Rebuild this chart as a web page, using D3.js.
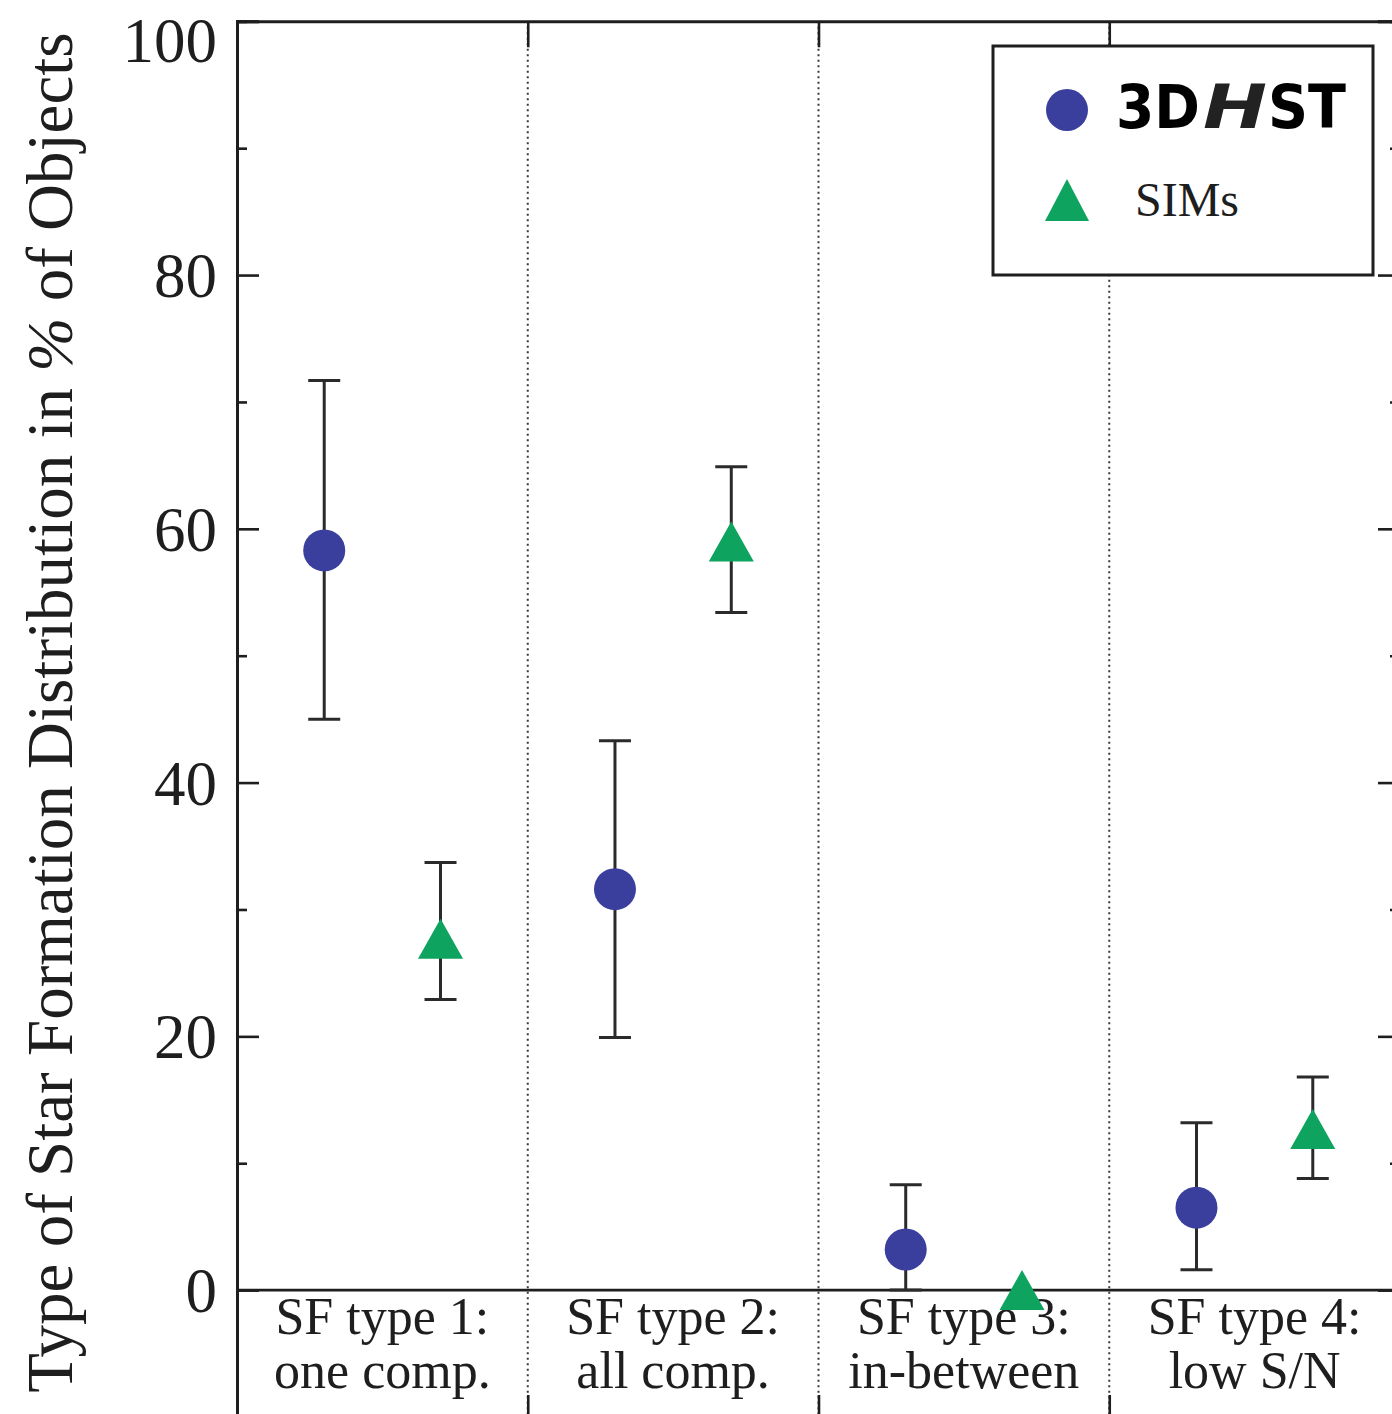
<!DOCTYPE html>
<html>
<head>
<meta charset="utf-8">
<script src="https://cdn.jsdelivr.net/npm/d3@7"></script>
<style>
  html, body { margin: 0; padding: 0; background: #fff; }
  svg { display: block; }
</style>
</head>
<body>
<div id="chart"></div>
<script>
// ---------------- data ----------------
const catLine1 = ["SF type 1:", "SF type 2:", "SF type 3:", "SF type 4:"];
const catLine2 = ["one comp.", "all comp.", "in-between", "low S/N"];

const hstValues = [58.3, 31.6, 3.2, 6.5];
const hstLow    = [45.0, 19.9, 0.0, 1.6];
const hstHigh   = [71.7, 43.3, 8.3, 13.2];

const simValues = [27.7, 59.0, 0.0, 12.7];
const simLow    = [22.9, 53.4, 0.0, 8.8];
const simHigh   = [33.7, 64.9, 0.0, 16.8];

const yMajorTicks = [0, 20, 40, 60, 80, 100];
const yMinorTicks = [10, 30, 50, 70, 90];
const xDividers = [1, 2, 3];
const legendLabels = ["3D", "H", "ST", "SIMs"];

// ---------------- layout ----------------
const W = 1392, H = 1414;
const mLeft = 237, mRight = 1400, mTop = 21.3, mBottom = 1417;
const blue = "#3a3f9d", green = "#0ea35e", ink = "#1e1e1e";
const serif = "'Liberation Serif', 'DejaVu Serif', serif";

const svg = d3.select("#chart").append("svg")
  .attr("width", W).attr("height", H)
  .attr("viewBox", `0 0 ${W} ${H}`);

const x = d3.scaleLinear().domain([0, 4]).range([mLeft, mRight]);
const y = d3.scaleLinear().domain([-10, 100]).range([mBottom, mTop]);

// dotted category dividers
svg.append("g").selectAll("line").data(xDividers).join("line")
  .attr("x1", d => x(d)).attr("x2", d => x(d))
  .attr("y1", mTop).attr("y2", mBottom)
  .attr("stroke", "#3a3a3a").attr("stroke-width", 2)
  .attr("stroke-dasharray", "2,3.5");

// zero line
svg.append("line")
  .attr("x1", mLeft).attr("x2", mRight)
  .attr("y1", y(0)).attr("y2", y(0))
  .attr("stroke", ink).attr("stroke-width", 2.6);

// axes (frame)
const yLeft = d3.axisRight(y).tickValues(yMajorTicks).tickSize(22).tickFormat("");
const yLeftMinor = d3.axisRight(y).tickValues(yMinorTicks).tickSize(10).tickFormat("");
const yRight = d3.axisLeft(y).tickValues(yMajorTicks).tickSize(22).tickFormat("");
const yRightMinor = d3.axisLeft(y).tickValues(yMinorTicks).tickSize(10).tickFormat("");
const xTop = d3.axisBottom(x).tickValues(xDividers).tickSize(26).tickFormat("");
const xBottom = d3.axisTop(x).tickValues(xDividers).tickSize(22).tickFormat("");

function styleAxis(g) {
  g.selectAll("path.domain").attr("stroke", ink).attr("stroke-width", 3);
  g.selectAll(".tick line").attr("stroke", ink).attr("stroke-width", 2.6);
}
svg.append("g").attr("transform", `translate(${mLeft},0)`).call(yLeft).call(styleAxis);
svg.append("g").attr("transform", `translate(${mLeft},0)`).call(yLeftMinor).call(styleAxis);
svg.append("g").attr("transform", `translate(${mRight},0)`).call(yRight).call(styleAxis);
svg.append("g").attr("transform", `translate(${mRight},0)`).call(yRightMinor).call(styleAxis);
svg.append("g").attr("transform", `translate(0,${mTop})`).call(xTop).call(styleAxis);
svg.append("g").attr("transform", `translate(0,${mBottom})`).call(xBottom).call(styleAxis);

// y tick labels
svg.append("g").selectAll("text").data(yMajorTicks).join("text")
  .attr("x", mLeft - 20)
  .attr("y", d => y(d) + (d === 100 ? 19 : 0))
  .attr("dy", "0.35em")
  .attr("text-anchor", "end")
  .attr("font-family", serif).attr("font-size", 63)
  .attr("fill", ink)
  .text(d => d);

// y axis title
const title = svg.append("text")
  .attr("transform", `translate(72,${(1395 + 30) / 2}) rotate(-90)`)
  .attr("text-anchor", "middle")
  .attr("font-family", serif).attr("font-size", 65)
  .attr("fill", ink);
title.append("tspan").text("Type of Star Formation Distribution in ");
title.append("tspan").attr("font-style", "italic").text("%");
title.append("tspan").text(" of Objects");

// category labels
const catG = svg.append("g");
catG.selectAll("text.l1").data(catLine1).join("text").attr("class", "l1")
  .attr("x", (d, i) => x(i + 0.5)).attr("y", 1334)
  .attr("text-anchor", "middle")
  .attr("font-family", serif).attr("font-size", 52).attr("fill", ink)
  .text(d => d);
catG.selectAll("text.l2").data(catLine2).join("text").attr("class", "l2")
  .attr("x", (d, i) => x(i + 0.5)).attr("y", 1388)
  .attr("text-anchor", "middle")
  .attr("font-family", serif).attr("font-size", 52).attr("fill", ink)
  .text(d => d);

// error bars
function errorBars(values, lo, hi, offset) {
  const g = svg.append("g").attr("stroke", "#2a2a2a").attr("stroke-width", 3);
  values.forEach((v, i) => {
    if (hi[i] === lo[i]) return;
    const cx = x(i + offset);
    g.append("line").attr("x1", cx).attr("x2", cx).attr("y1", y(lo[i])).attr("y2", y(hi[i]));
    g.append("line").attr("x1", cx - 16).attr("x2", cx + 16).attr("y1", y(lo[i])).attr("y2", y(lo[i]));
    g.append("line").attr("x1", cx - 16).attr("x2", cx + 16).attr("y1", y(hi[i])).attr("y2", y(hi[i]));
  });
}
errorBars(hstValues, hstLow, hstHigh, 0.3);
errorBars(simValues, simLow, simHigh, 0.7);

// triangle centered on its bounding box
function triPath(cx, cy, hw, hh) {
  return `M${cx},${cy - hh}L${cx + hw},${cy + hh}L${cx - hw},${cy + hh}Z`;
}

// markers
svg.append("g").selectAll("circle").data(hstValues).join("circle")
  .attr("cx", (d, i) => x(i + 0.3)).attr("cy", d => y(d))
  .attr("r", 21).attr("fill", blue);

svg.append("g").selectAll("path").data(simValues).join("path")
  .attr("d", (d, i) => triPath(x(i + 0.7), y(d), 22.5, 20))
  .attr("fill", green);

// legend
const lg = svg.append("g");
lg.append("rect").attr("x", 993).attr("y", 46).attr("width", 380).attr("height", 229)
  .attr("fill", "#fff").attr("stroke", ink).attr("stroke-width", 3);
lg.append("circle").attr("cx", 1067).attr("cy", 110).attr("r", 21).attr("fill", blue);
lg.append("path").attr("d", triPath(1067, 200, 22, 21)).attr("fill", green);

const logo = lg.append("text")
  .attr("y", 128)
  .attr("font-family", "'DejaVu Sans', sans-serif").attr("font-weight", "bold")
  .attr("font-size", 60).attr("fill", "#000");
logo.append("tspan").attr("x", 1116).attr("textLength", 84).attr("lengthAdjust", "spacingAndGlyphs").text(legendLabels[0]);
logo.append("tspan").attr("x", 1203).attr("font-style", "italic").attr("fill", "#222")
  .attr("textLength", 64).attr("lengthAdjust", "spacingAndGlyphs").text(legendLabels[1]);
logo.append("tspan").attr("x", 1268).attr("textLength", 78).attr("lengthAdjust", "spacingAndGlyphs").text(legendLabels[2]);

lg.append("text").attr("x", 1135).attr("y", 216)
  .attr("font-family", serif).attr("font-size", 48).attr("fill", ink)
  .text(legendLabels[3]);
</script>
</body>
</html>
